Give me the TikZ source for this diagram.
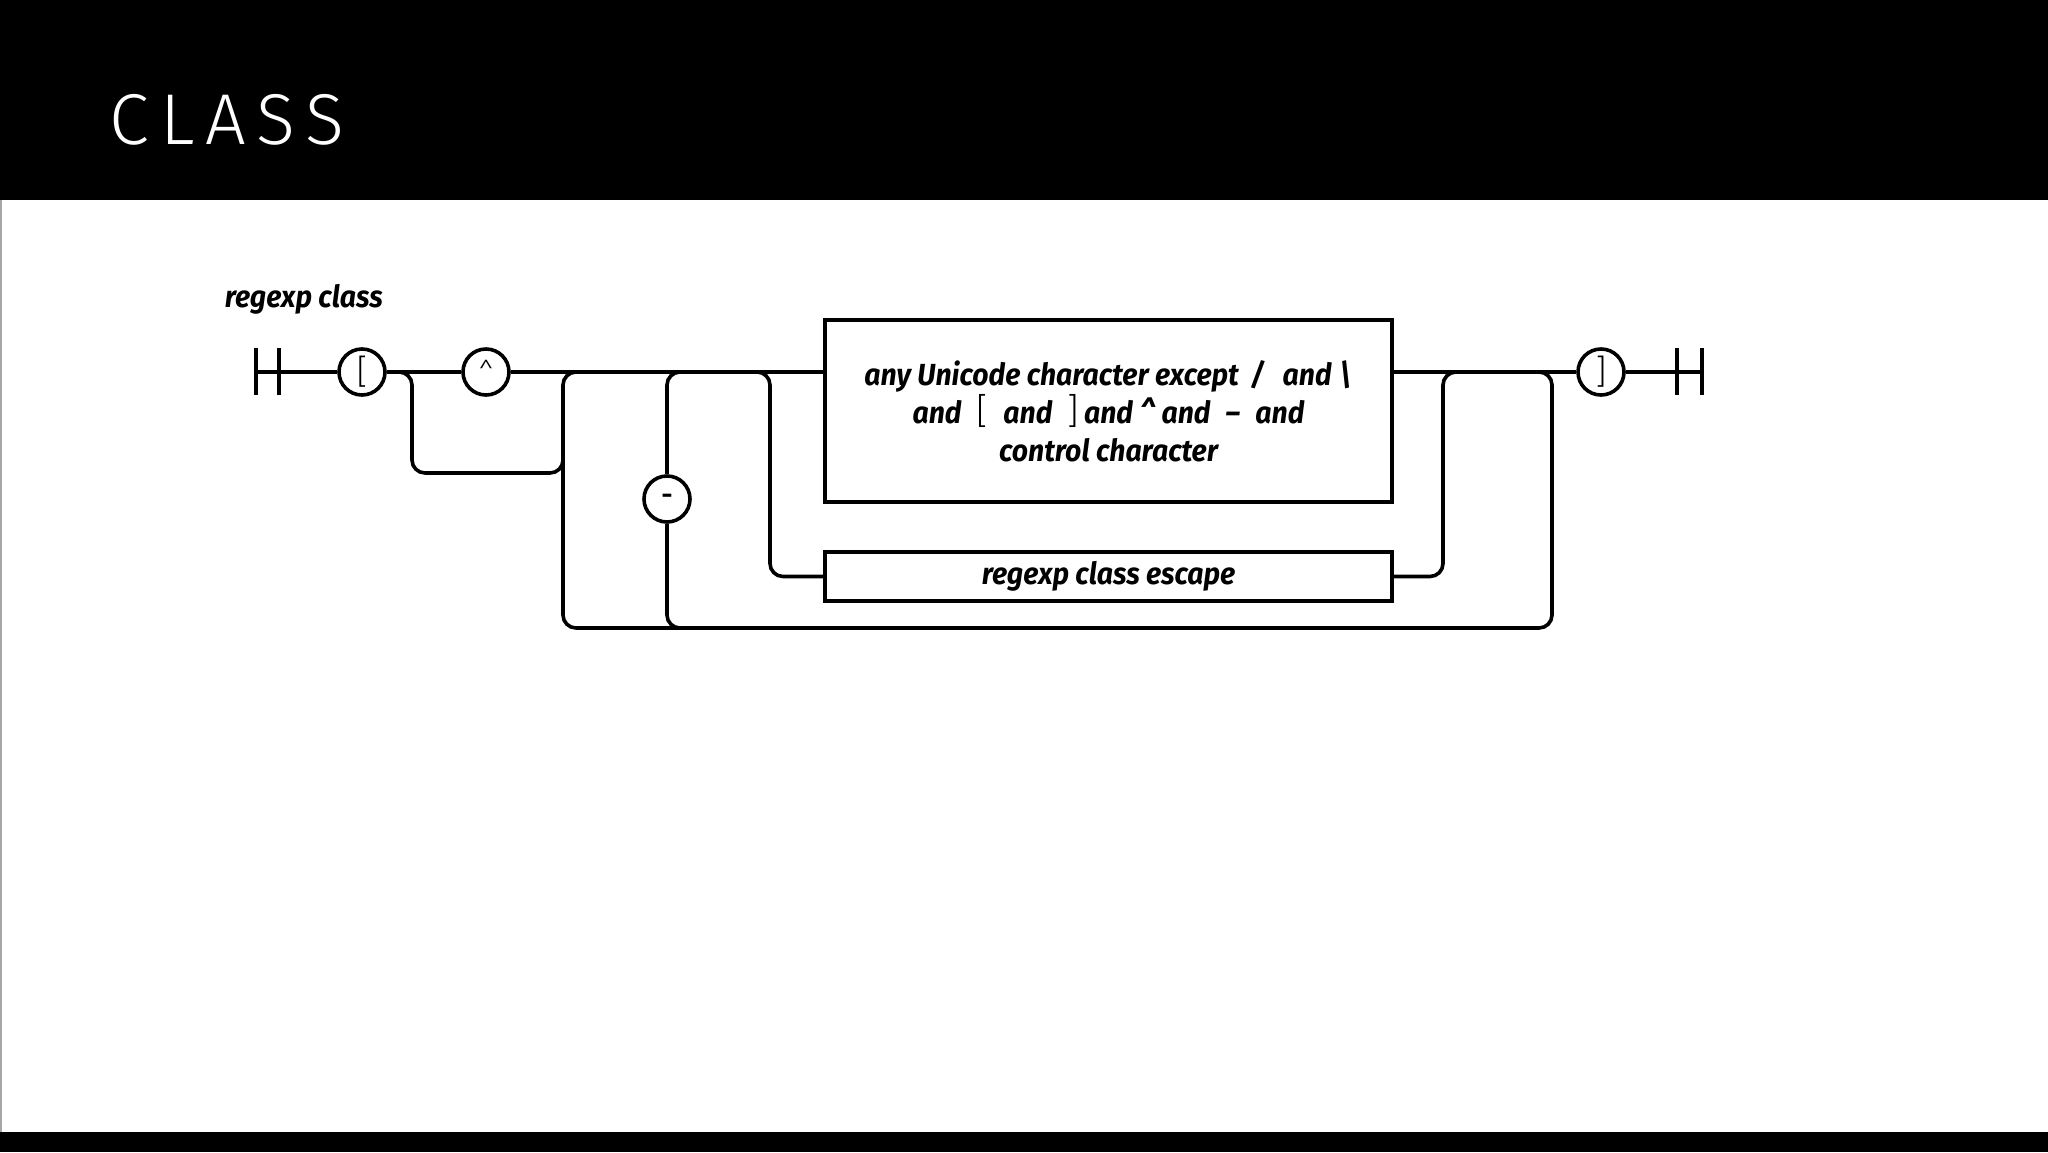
\documentclass[tikz,border=0pt]{standalone}
\usepackage{fontspec}
\newfontfamily\diafont{Fira Sans}[FakeStretch=0.93]
\newfontfamily\titlefont{Fira Sans Light}[LetterSpace=15]
\newfontfamily\symfont{Fira Sans Light}
\newcommand{\brk}[1]{{\symfont\upshape\mdseries\fontsize{36}{37}\selectfont #1}}
\begin{document}
\begin{tikzpicture}[x=1pt,y=-1pt,line width=3.6pt,
  rr/.style={rounded corners=13pt},
  term/.style={circle,draw,minimum size=46pt,inner sep=0pt,fill=white,
    font=\symfont\fontsize{28}{30}\selectfont},
  boxn/.style={draw,minimum width=567pt,fill=white,align=center,inner sep=0pt,
    font=\diafont\bfseries\itshape\fontsize{30.5}{37}\selectfont},
  bar/.style={line width=3.6pt}]
\useasboundingbox (0,0) rectangle (2048,1152);
\fill[white] (0,0) rectangle (2048,1152);
\fill[black] (0,0) rectangle (2048,200);
\fill[black] (0,1132) rectangle (2048,1152);
\draw[gray!70,line width=1.5pt] (1,200) -- (1,1132);
\node[anchor=base west,text=white,inner sep=0pt,font=\titlefont\fontsize{72}{80}\selectfont] (title) at (108,144) {CLASS};
\node[anchor=base west,inner sep=0pt,font=\diafont\bfseries\itshape\fontsize{30.5}{36}\selectfont] (lbl) at (223,307) {regexp class};
% terminals
\coordinate (s1) at (256,372);
\coordinate (s2) at (279,372);
\coordinate (e1) at (1677,372);
\coordinate (e2) at (1702,372);
\draw[bar] (256,348) -- (256,395);
\draw[bar] (279,348) -- (279,395);
\draw[bar] (1677,348) -- (1677,395);
\draw[bar] (1702,348) -- (1702,395);
% nodes
\node[term] (open) at (362,372) {\fontsize{34}{36}\selectfont\raisebox{1pt}{[}};
\node[term] (caret) at (486,372) {\raisebox{-2pt}{\textasciicircum}};
\node[term] (dash) at (667,499) {\bfseries -};
\node[term] (close) at (1601,372) {\fontsize{34}{36}\selectfont\raisebox{1pt}{]}};
\node[boxn,minimum height=182pt] (box1) at (1108.5,411) {\raisebox{2pt}{any Unicode character except\ \,/\ \, and \textbackslash}\\
\raisebox{1pt}{and\enspace\brk{[}\enspace and\enspace\brk{]}\,and \textasciicircum{} and\enspace\textendash\enspace and}\\
control character};
\node[boxn,minimum height=49pt] (box2) at (1108.5,576.5) {regexp class escape};
% main line
\draw (s1) -- (open.west);
\draw (open.east) -- (caret.west);
\draw (caret.east) -- (caret.east -| box1.west);
\draw (close.west -| box1.east) -- (close.west);
\draw (close.east) -- (e2);
% bypass of caret
\draw[rr] (open.east) -| (412,473) -| (563,440);
% repetition loop
\draw[rr] (590,372) -| (563,628) -| (1552,372) -- (1530,372);
% dash path
\draw[rr] (690,372) -| (dash.north);
\draw[rr] (dash.south) |- (690,628);
% box2 alternatives
\draw[rr] (745,372) -| (770,576.5) -- (box2.west);
\draw[rr] (box2.east) -| (1443,372) -- (1470,372);
\end{tikzpicture}
\end{document}
